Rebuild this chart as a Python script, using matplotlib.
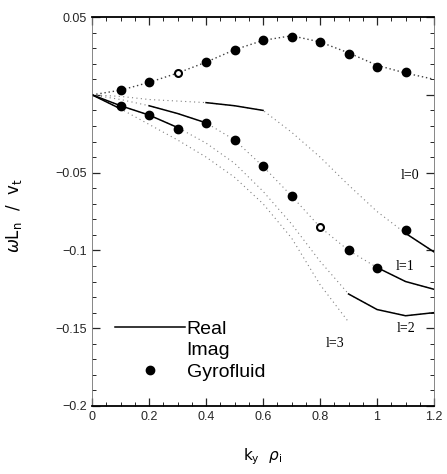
import numpy as np
import matplotlib
matplotlib.use('Agg')
import matplotlib.pyplot as plt
from matplotlib.lines import Line2D
from matplotlib.ticker import MultipleLocator, FixedLocator, FixedFormatter

plt.rcParams['font.family'] = ['Liberation Sans', 'DejaVu Sans']

# wavenumber grid k_y rho_i
k = [0, 0.1, 0.2, 0.3, 0.4, 0.5, 0.6, 0.7, 0.8, 0.9, 1.0, 1.1, 1.2]

# imaginary part (growth rate), l=0
imag_l0 = [0, 0.003, 0.008, 0.014, 0.021, 0.029, 0.035, 0.038, 0.034, 0.027, 0.019, 0.014, 0.010]

# real frequencies for l = 0..3
real_l0 = [0, -0.001, -0.003, -0.004, -0.005, -0.007, -0.010, -0.024, -0.040, -0.058, -0.075, -0.089, -0.101]
real_l1 = [0, -0.003, -0.007, -0.012, -0.018, -0.029, -0.046, -0.065, -0.085, -0.100, -0.111, -0.120, -0.125]
real_l2 = [0, -0.007, -0.013, -0.021, -0.031, -0.044, -0.062, -0.083, -0.107, -0.128, -0.138, -0.142, -0.140]
k_l3 = [0, 0.1, 0.2, 0.3, 0.4, 0.5, 0.6, 0.7, 0.8, 0.9]
real_l3 = [0, -0.009, -0.019, -0.029, -0.040, -0.053, -0.070, -0.092, -0.122, -0.146]

# gyrofluid points
gf_up_k = [0.1, 0.2, 0.4, 0.5, 0.6, 0.7, 0.8, 0.9, 1.0, 1.1]
gf_up = [0.003, 0.008, 0.021, 0.029, 0.035, 0.037, 0.034, 0.026, 0.018, 0.015]
gf_lo_k = [0.1, 0.2, 0.3, 0.4, 0.5, 0.6, 0.7, 0.9, 1.0, 1.1]
gf_lo = [-0.007, -0.013, -0.022, -0.018, -0.029, -0.046, -0.065, -0.100, -0.111, -0.087]
# faint open points
gf_open_k = [0.3, 0.8]
gf_open = [0.014, -0.085]

fig = plt.figure(figsize=(4.47, 4.74), dpi=100)
ax = fig.add_axes([0.206, 0.1435, 0.765, 0.8205])

# imaginary part, dotted
ax.plot(k, imag_l0, ls=(0, (1, 2)), color='0.25', lw=1.0)

# real parts: faint full curve, darker solid where the print is visible
curves = [(k, real_l0, [(0.4, 0.6), (1.1, 1.2)]),
          (k, real_l1, [(0.2, 0.4), (1.0, 1.2)]),
          (k, real_l2, [(0.0, 0.3), (0.9, 1.2)]),
          (k_l3, real_l3, [(0.0, 0.1)])]
for kx, vals, parts in curves:
    kx = np.array(kx)
    vals = np.array(vals)
    ax.plot(kx, vals, ls=(0, (1, 3)), color='0.5', lw=0.8)
    for a, b in parts:
        m = (kx >= a - 1e-9) & (kx <= b + 1e-9)
        ax.plot(kx[m], vals[m], color='black', lw=1.1)

ax.plot(gf_up_k, gf_up, 'o', color='black', ms=6)
ax.plot(gf_lo_k, gf_lo, 'o', color='black', ms=6)
ax.plot(gf_open_k, gf_open, 'o', mfc='white', mec='black', mew=1.5, ms=5)

# curve labels
lab = dict(fontsize=10, ha='center', va='center', family='Liberation Serif')
ax.text(1.116, -0.052, 'l=0', **lab)
ax.text(1.10, -0.1105, 'l=1', **lab)
ax.text(1.103, -0.15, 'l=2', **lab)
ax.text(0.853, -0.160, 'l=3', **lab)

ax.set_xlim(0, 1.2)
ax.set_ylim(-0.2, 0.05)

ax.xaxis.set_major_locator(FixedLocator([0, 0.2, 0.4, 0.6, 0.8, 1.0, 1.2]))
ax.xaxis.set_major_formatter(FixedFormatter(['0', '0.2', '0.4', '0.6', '0.8', '1', '1.2']))
ax.xaxis.set_minor_locator(MultipleLocator(0.05))
ax.yaxis.set_major_locator(FixedLocator([0.05, 0, -0.05, -0.1, -0.15, -0.2]))
ax.yaxis.set_major_formatter(FixedFormatter(['0.05', '', '\u22120.05', '\u22120.1', '\u22120.15', '\u22120.2']))
ax.yaxis.set_minor_locator(MultipleLocator(0.01))
ax.tick_params(which='both', direction='in', top=True, right=True, labelsize=9, colors='0.15')
ax.tick_params(which='major', length=6, width=0.9)
ax.tick_params(which='minor', length=3, width=0.7)

for side in ['top', 'bottom']:
    ax.spines[side].set_linewidth(1.3)
for side in ['left', 'right']:
    ax.spines[side].set_linewidth(0.6)
    ax.spines[side].set_color('0.45')

ax.set_xlabel(r'$\mathrm{k_y}\ \ \rho_\mathrm{i}$', fontsize=11, labelpad=17)
ax.set_ylabel(r'$\omega \mathrm{L_n}\ \ /\ \ \mathrm{v_t}$', fontsize=12)
ax.yaxis.set_label_coords(-0.2, 0.49)

handles = [Line2D([], [], color='black', lw=1.1),
           Line2D([], [], color='white', lw=0),
           Line2D([], [], color='black', marker='o', ls='none', ms=6)]
ax.legend(handles, ['Real', 'Imag', 'Gyrofluid'], loc='lower left',
          bbox_to_anchor=(0.015, 0.02), frameon=False, fontsize=14,
          handlelength=3.6, handletextpad=0.1, labelspacing=0.2)

fig.savefig('out.png', dpi=100)
